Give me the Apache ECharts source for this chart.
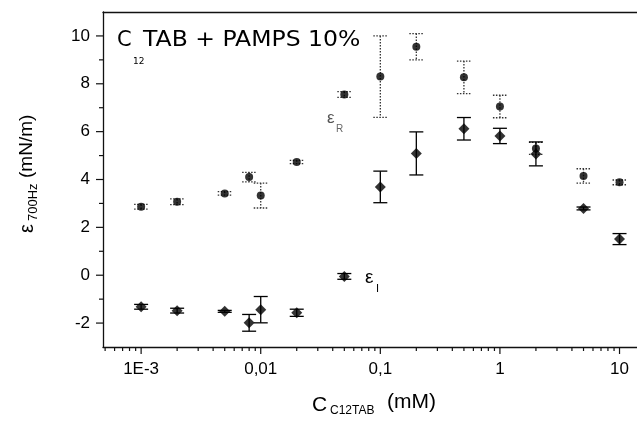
<!DOCTYPE html>
<html><head><meta charset="utf-8">
<script src="https://cdn.jsdelivr.net/npm/echarts@6/dist/echarts.min.js"></script>
<style>html,body{margin:0;padding:0;background:#fff}#c{width:637px;height:421px}</style>
</head><body><div id="c"></div>
<script>
// ---- data ----
const concR = [0.001, 0.002, 0.005, 0.008, 0.01, 0.02, 0.05, 0.1, 0.2, 0.5, 1, 2, 5, 10];
const epsR  = [2.86, 3.07, 3.42, 4.1, 3.33, 4.73, 7.55, 8.3, 9.55, 8.27, 7.05, 5.3, 4.15, 3.88];
const errR  = [0.1, 0.12, 0.07, 0.2, 0.52, 0.07, 0.12, 1.7, 0.55, 0.68, 0.47, 0.25, 0.3, 0.1];
const concI = [0.001, 0.002, 0.005, 0.008, 0.01, 0.02, 0.05, 0.1, 0.2, 0.5, 1, 2, 5, 10];
const epsI  = [-1.32, -1.48, -1.51, -1.99, -1.44, -1.57, -0.05, 3.69, 5.09, 6.12, 5.82, 5.07, 2.79, 1.51];
const errI  = [0.1, 0.1, 0.04, 0.35, 0.55, 0.15, 0.12, 0.66, 0.9, 0.47, 0.32, 0.5, 0.06, 0.23];
const xTickValues = [0.001, 0.01, 0.1, 1, 10];
const xTickLabels = ['1E-3', '0,01', '0,1', '1', '10'];
const yTickValues = [-2, 0, 2, 4, 6, 8, 10];

const X_MIN = 0.00048, X_MAX = 14, Y_MIN = -3, Y_MAX = 11;

// minor log ticks (2..9 x decade) inside range
const xMinor = [];
for (let d = -4; d <= 1; d++) for (let m = 2; m <= 9; m++) {
  const v = m * Math.pow(10, d);
  if (v > X_MIN && v < X_MAX) xMinor.push(v);
}
const yMinor = [-1, 1, 3, 5, 7, 9];

const chart = echarts.init(document.getElementById('c'), null, {renderer: 'canvas'});

function errRender(dash, color) {
  return function (params, api) {
    const x = api.value(0), y = api.value(1), e = api.value(2);
    const t = api.coord([x, y + e]), b = api.coord([x, y - e]);
    const hw = 7;
    const st = {stroke: color, lineWidth: 1.3, lineDash: dash, fill: null};
    return {type: 'group', children: [
      {type: 'line', shape: {x1: t[0], y1: t[1], x2: b[0], y2: b[1]}, style: st},
      {type: 'line', shape: {x1: t[0] - hw, y1: t[1], x2: t[0] + hw, y2: t[1]}, style: st},
      {type: 'line', shape: {x1: b[0] - hw, y1: b[1], x2: b[0] + hw, y2: b[1]}, style: st}
    ]};
  };
}
function xTickRender(len) {
  return function (params, api) {
    const p = api.coord([api.value(0), Y_MIN]);
    return {type: 'line', shape: {x1: p[0], y1: p[1], x2: p[0], y2: p[1] + len},
      style: {stroke: '#111', lineWidth: 1.2}};
  };
}
function yTickRender(len) {
  return function (params, api) {
    const p = api.coord([X_MIN, api.value(0)]);
    return {type: 'line', shape: {x1: p[0], y1: p[1], x2: p[0] - len, y2: p[1]},
      style: {stroke: '#111', lineWidth: 1.2}};
  };
}

const labelFont = '"Liberation Sans", Arial, sans-serif';

const option = {
  animation: false,
  backgroundColor: '#fff',
  grid: {left: 103, right: 0, top: 12, bottom: 74},
  xAxis: [{
    type: 'log', min: X_MIN, max: X_MAX, logBase: 10,
    axisLine: {show: true, onZero: false, lineStyle: {color: '#111', width: 1.3}},
    axisTick: {show: false},
    splitLine: {show: false},
    minorTick: {show: false},
    axisLabel: {
      show: true, margin: 14, color: '#000', fontSize: 17, fontFamily: labelFont,
      showMinLabel: false, showMaxLabel: false,
      formatter: function (v) {
        for (let i = 0; i < xTickValues.length; i++) {
          if (Math.abs(Math.log10(v) - Math.log10(xTickValues[i])) < 1e-6) return xTickLabels[i];
        }
        return '';
      }
    }
  }, {
    type: 'log', min: X_MIN, max: X_MAX, position: 'top',
    axisLine: {show: true, onZero: false, lineStyle: {color: '#111', width: 1.3}},
    axisTick: {show: false}, axisLabel: {show: false}, splitLine: {show: false}
  }],
  yAxis: {
    type: 'value', min: Y_MIN, max: Y_MAX, interval: 1,
    axisLine: {show: true, onZero: false, lineStyle: {color: '#111', width: 1.3}},
    axisTick: {show: false},
    splitLine: {show: false},
    axisLabel: {
      margin: 13, color: '#000', fontSize: 17, fontFamily: labelFont,
      formatter: function (v) { return yTickValues.indexOf(v) >= 0 ? String(v) : ''; }
    }
  },
  series: [
    {type: 'custom', name: 'errR', renderItem: errRender([1.5, 1.5], '#333'),
      data: concR.map((c, i) => [c, epsR[i], errR[i]]), encode: {x: 0, y: 1}, silent: true, z: 2},
    {type: 'custom', name: 'errI', renderItem: errRender(null, '#000'),
      data: concI.map((c, i) => [c, epsI[i], errI[i]]), encode: {x: 0, y: 1}, silent: true, z: 2},
    {type: 'scatter', name: 'εR', symbol: 'circle', symbolSize: 8,
      itemStyle: {color: '#000'}, data: concR.map((c, i) => [c, epsR[i]]), z: 3},
    {type: 'scatter', name: 'εI', symbol: 'diamond', symbolSize: 11,
      itemStyle: {color: '#000'}, data: concI.map((c, i) => [c, epsI[i]]), z: 3},
    {type: 'custom', renderItem: xTickRender(7), data: xTickValues.map(v => [v]), silent: true, clip: false},
    {type: 'custom', renderItem: xTickRender(4), data: xMinor.map(v => [v]), silent: true, clip: false},
    {type: 'custom', renderItem: yTickRender(7), data: yTickValues.map(v => [v]), silent: true, clip: false},
    {type: 'custom', renderItem: yTickRender(4), data: yMinor.map(v => [v]), silent: true, clip: false}
  ],
  graphic: [
    // panel title
    {type: 'text', x: 117, y: 41, style: {text: 'C', font: '21px "DejaVu Sans"', fill: '#000', textVerticalAlign: 'middle'}},
    {type: 'text', x: 133, y: 62, style: {text: '12', font: '9px "DejaVu Sans"', fill: '#000', textVerticalAlign: 'middle'}},
    {type: 'text', x: 143, y: 41, scaleX: 1.12, style: {text: 'TAB + PAMPS 10%', font: '21px "DejaVu Sans"', fill: '#000', textVerticalAlign: 'middle'}},
    // series labels
    {type: 'text', x: 327, y: 118, style: {text: 'ε', font: '17px "Liberation Sans"', fill: '#555', textVerticalAlign: 'middle'}},
    {type: 'text', x: 336, y: 129, style: {text: 'R', font: '10px "Liberation Sans"', fill: '#666', textVerticalAlign: 'middle'}},
    {type: 'text', x: 365, y: 278, style: {text: 'ε', font: '19px "Liberation Sans"', fill: '#000', textVerticalAlign: 'middle'}},
    {type: 'text', x: 376, y: 289, style: {text: 'I', font: '11px "Liberation Sans"', fill: '#000', textVerticalAlign: 'middle'}},
    // x axis name
    {type: 'text', x: 312, y: 405, style: {text: 'C', font: '21px "Liberation Sans"', fill: '#000', textVerticalAlign: 'middle'}},
    {type: 'text', x: 330, y: 411, style: {text: 'C12TAB', font: '12px "Liberation Sans"', fill: '#000', textVerticalAlign: 'middle'}},
    {type: 'text', x: 387, y: 402, style: {text: '(mM)', font: '21px "Liberation Sans"', fill: '#000', textVerticalAlign: 'middle'}},
    // y axis name (rotated)
    {type: 'group', x: 27, y: 233, rotation: Math.PI / 2, children: [
      {type: 'text', x: 0, y: 0, style: {text: 'ε', font: '20px "Liberation Sans"', fill: '#000', textVerticalAlign: 'middle'}},
      {type: 'text', x: 12, y: 6, style: {text: '700Hz', font: '13px "Liberation Sans"', fill: '#000', textVerticalAlign: 'middle'}},
      {type: 'text', x: 55, y: 0, style: {text: '(mN/m)', font: '19px "Liberation Sans"', fill: '#000', textVerticalAlign: 'middle'}}
    ]}
  ]
};
chart.setOption(option);
</script>
</body></html>
